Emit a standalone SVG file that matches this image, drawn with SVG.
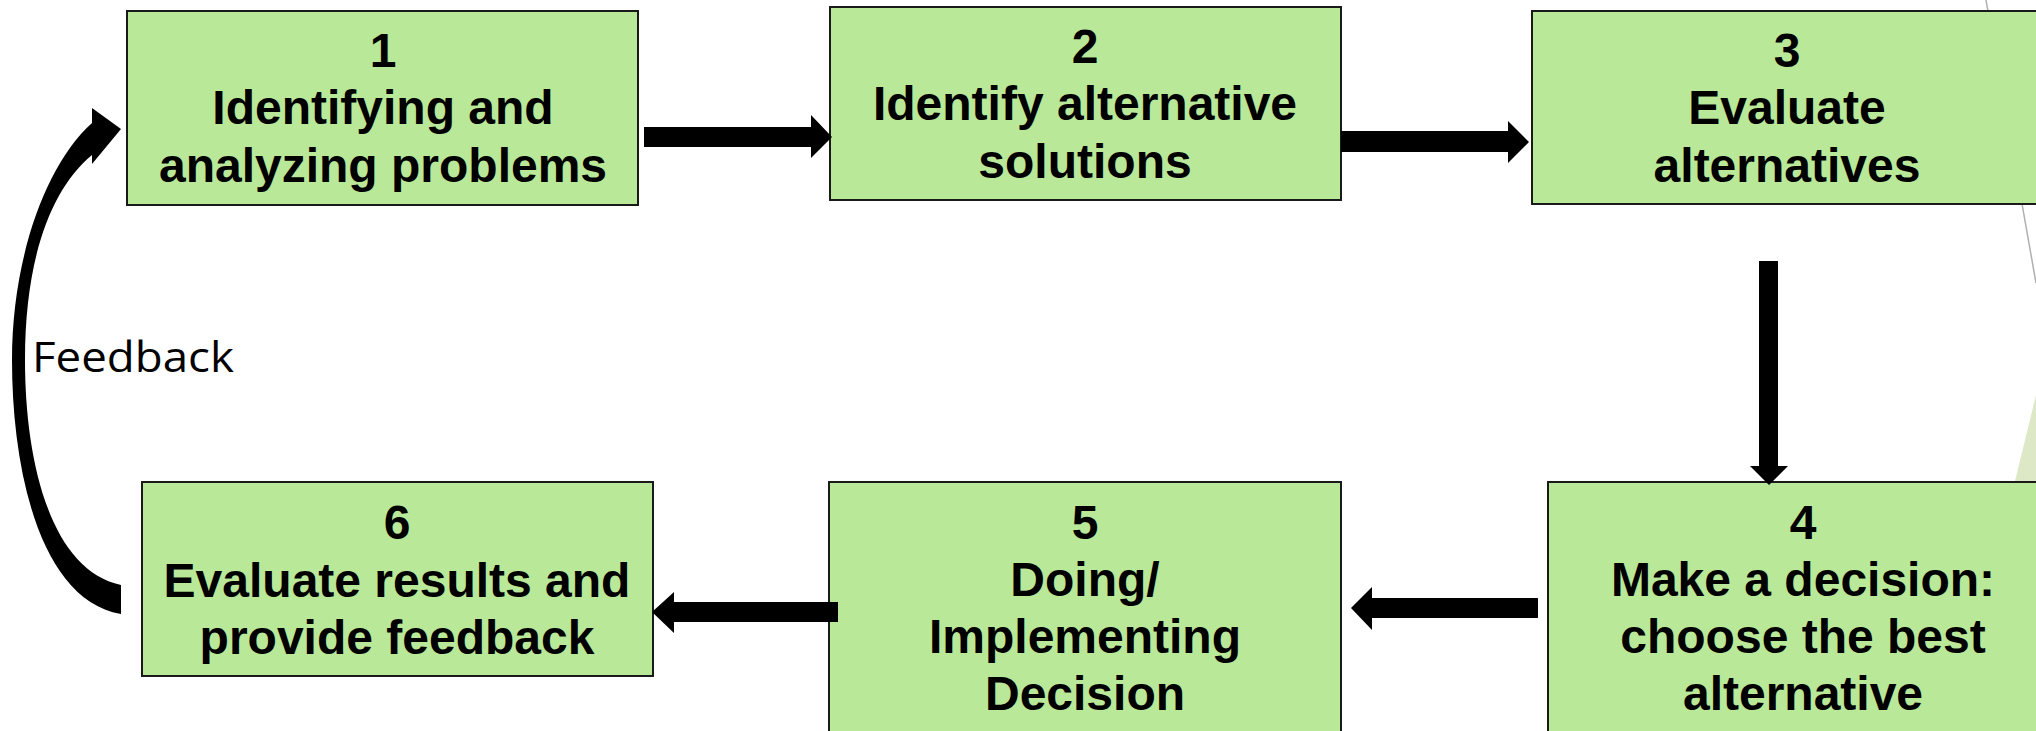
<svg xmlns="http://www.w3.org/2000/svg" width="2036" height="731" viewBox="0 0 2036 731">
<style>
.box{fill:#b9e898;stroke:#1a1a1a;stroke-width:2}
.t{font-family:"Liberation Sans",Arial,sans-serif;font-weight:bold;font-size:48px;fill:#000;text-anchor:middle}
.arr{fill:#000}
.lbl{font-family:"Open Sans","Noto Sans",sans-serif;font-size:42px;fill:#000}
</style>
<rect width="2036" height="731" fill="#fff"/>
<g id="decor">
<line x1="1986" y1="0" x2="2036" y2="283" stroke="#b0b0b0" stroke-width="1.5"/>
<polygon points="2036,395 2015,481 2036,481" fill="#dde9c6"/>
</g>
<g id="node1"><rect class="box" x="127" y="11" width="511" height="194"/>
<text class="t" x="383" y="67">1</text><text class="t" x="383" y="124">Identifying and</text><text class="t" x="383" y="182">analyzing problems</text></g>
<g id="node2"><rect class="box" x="830" y="7" width="511" height="193"/>
<text class="t" x="1085" y="63">2</text><text class="t" x="1085" y="120">Identify alternative</text><text class="t" x="1085" y="178">solutions</text></g>
<g id="node3"><rect class="box" x="1532" y="11" width="511" height="193"/>
<text class="t" x="1787" y="67">3</text><text class="t" x="1787" y="124">Evaluate</text><text class="t" x="1787" y="182">alternatives</text></g>
<g id="node4"><rect class="box" x="1548" y="482" width="512" height="280"/>
<text class="t" x="1803" y="539">4</text><text class="t" x="1803" y="596">Make a decision:</text><text class="t" x="1803" y="653">choose the best</text><text class="t" x="1803" y="710">alternative</text></g>
<g id="node5"><rect class="box" x="829" y="482" width="512" height="280"/>
<text class="t" x="1085" y="539">5</text><text class="t" x="1085" y="596">Doing/</text><text class="t" x="1085" y="653">Implementing</text><text class="t" x="1085" y="710">Decision</text></g>
<g id="node6"><rect class="box" x="142" y="482" width="511" height="194"/>
<text class="t" x="397" y="539">6</text><text class="t" x="397" y="597">Evaluate results and</text><text class="t" x="397" y="654">provide feedback</text></g>
<g id="connectors">
<polygon class="arr" points="644,127 811,127 811,115 832,137 811,158 811,147 644,147"/>
<polygon class="arr" points="1341,131 1508,131 1508,121 1529,142 1508,163 1508,152 1341,152"/>
<polygon class="arr" points="1759,261 1778,261 1778,466 1788,466 1769,485 1750,466 1759,466"/>
<polygon class="arr" points="1538,598 1372,598 1372,587 1351,608 1372,630 1372,618 1538,618"/>
<polygon class="arr" points="838,602 674,602 674,592 652,612 674,633 674,622 838,622"/>
<path class="arr" d="M92,123 C45,165 12,260 12,360 C12,470 40,600 121,614 L121,585 C50,570 25,460 25,360 C25,260 50,190 92,155 L92,164 L121,129 L92,108 Z"/>
<text class="lbl" x="32" y="372" textLength="202" lengthAdjust="spacingAndGlyphs">Feedback</text>
</g>
</svg>
